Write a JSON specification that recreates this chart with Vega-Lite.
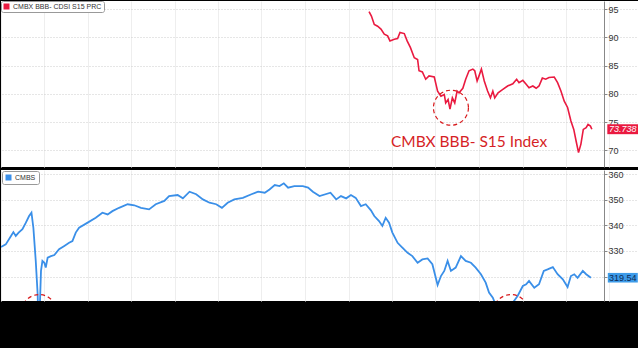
{
  "$schema": "https://vega.github.io/schema/vega-lite/v6.json",
  "background": "black",
  "padding": {"left": 0, "top": 0, "right": 0, "bottom": 48},
  "bounds": "flush",
  "spacing": 3,
  "config": {
    "view": {"fill": "white", "stroke": null},
    "font": "Liberation Sans"
  },
  "resolve": {"scale": {"color": "independent", "y": "independent"}, "legend": {"color": "independent"}},
  "datasets": {
    "cmbx": [
      {"date": "2022-02-12", "value": 94.6},
      {"date": "2022-02-17", "value": 93.8},
      {"date": "2022-02-23", "value": 92.3},
      {"date": "2022-03-02", "value": 92.0},
      {"date": "2022-03-09", "value": 91.5},
      {"date": "2022-03-16", "value": 90.6},
      {"date": "2022-03-23", "value": 90.3},
      {"date": "2022-03-28", "value": 89.4},
      {"date": "2022-04-06", "value": 89.7},
      {"date": "2022-04-13", "value": 89.8},
      {"date": "2022-04-18", "value": 90.9},
      {"date": "2022-04-27", "value": 90.7},
      {"date": "2022-05-03", "value": 89.4},
      {"date": "2022-05-10", "value": 88.2},
      {"date": "2022-05-18", "value": 86.4},
      {"date": "2022-05-25", "value": 86.1},
      {"date": "2022-05-28", "value": 84.1},
      {"date": "2022-06-04", "value": 83.9},
      {"date": "2022-06-11", "value": 82.6},
      {"date": "2022-06-18", "value": 83.2},
      {"date": "2022-06-29", "value": 83.0},
      {"date": "2022-07-06", "value": 80.5},
      {"date": "2022-07-13", "value": 79.6},
      {"date": "2022-07-20", "value": 79.9},
      {"date": "2022-07-23", "value": 78.4},
      {"date": "2022-07-28", "value": 79.0},
      {"date": "2022-08-01", "value": 77.3},
      {"date": "2022-08-06", "value": 79.3},
      {"date": "2022-08-11", "value": 78.4},
      {"date": "2022-08-16", "value": 80.5},
      {"date": "2022-08-20", "value": 80.2},
      {"date": "2022-08-28", "value": 81.0},
      {"date": "2022-09-03", "value": 82.6},
      {"date": "2022-09-10", "value": 84.1},
      {"date": "2022-09-18", "value": 84.4},
      {"date": "2022-09-22", "value": 84.1},
      {"date": "2022-09-27", "value": 82.3},
      {"date": "2022-10-01", "value": 83.2},
      {"date": "2022-10-06", "value": 84.4},
      {"date": "2022-10-12", "value": 82.3},
      {"date": "2022-10-19", "value": 80.5},
      {"date": "2022-10-25", "value": 79.3},
      {"date": "2022-10-30", "value": 80.5},
      {"date": "2022-11-03", "value": 79.3},
      {"date": "2022-11-10", "value": 80.2},
      {"date": "2022-11-20", "value": 80.8},
      {"date": "2022-11-30", "value": 81.4},
      {"date": "2022-12-11", "value": 81.8},
      {"date": "2022-12-19", "value": 82.6},
      {"date": "2022-12-24", "value": 82.0},
      {"date": "2023-01-01", "value": 82.4},
      {"date": "2023-01-08", "value": 81.7},
      {"date": "2023-01-14", "value": 81.1},
      {"date": "2023-01-22", "value": 81.4},
      {"date": "2023-01-29", "value": 81.0},
      {"date": "2023-02-04", "value": 81.4},
      {"date": "2023-02-11", "value": 82.8},
      {"date": "2023-02-18", "value": 82.6},
      {"date": "2023-02-25", "value": 82.9},
      {"date": "2023-03-08", "value": 83.0},
      {"date": "2023-03-15", "value": 82.0},
      {"date": "2023-03-22", "value": 80.5},
      {"date": "2023-03-29", "value": 78.7},
      {"date": "2023-04-05", "value": 77.6},
      {"date": "2023-04-12", "value": 75.2},
      {"date": "2023-04-18", "value": 73.7},
      {"date": "2023-04-23", "value": 71.6},
      {"date": "2023-04-28", "value": 69.6},
      {"date": "2023-05-03", "value": 71.1},
      {"date": "2023-05-08", "value": 73.7},
      {"date": "2023-05-14", "value": 74.0},
      {"date": "2023-05-18", "value": 74.6},
      {"date": "2023-05-23", "value": 74.3},
      {"date": "2023-05-26", "value": 73.738}
    ],
    "cmbs": [
      {"date": "2020-01-01", "value": 331.6},
      {"date": "2020-01-11", "value": 332.6},
      {"date": "2020-01-22", "value": 335.9},
      {"date": "2020-01-27", "value": 337.4},
      {"date": "2020-02-01", "value": 335.9},
      {"date": "2020-02-07", "value": 337.2},
      {"date": "2020-02-15", "value": 338.5},
      {"date": "2020-02-22", "value": 341.0},
      {"date": "2020-02-29", "value": 343.7},
      {"date": "2020-03-05", "value": 345.0},
      {"date": "2020-03-09", "value": 339.1},
      {"date": "2020-03-14", "value": 326.1},
      {"date": "2020-03-18", "value": 313.0},
      {"date": "2020-03-20", "value": 298.0},
      {"date": "2020-03-22", "value": 305.0},
      {"date": "2020-03-25", "value": 322.2},
      {"date": "2020-03-28", "value": 326.1},
      {"date": "2020-04-01", "value": 325.4},
      {"date": "2020-04-04", "value": 323.5},
      {"date": "2020-04-08", "value": 327.4},
      {"date": "2020-04-15", "value": 328.0},
      {"date": "2020-04-22", "value": 328.4},
      {"date": "2020-05-02", "value": 330.7},
      {"date": "2020-05-13", "value": 332.0},
      {"date": "2020-05-23", "value": 333.2},
      {"date": "2020-05-30", "value": 333.9},
      {"date": "2020-06-06", "value": 337.2},
      {"date": "2020-06-13", "value": 339.1},
      {"date": "2020-07-01", "value": 341.1},
      {"date": "2020-07-18", "value": 343.0},
      {"date": "2020-08-01", "value": 345.0},
      {"date": "2020-08-12", "value": 344.3},
      {"date": "2020-08-22", "value": 345.6},
      {"date": "2020-09-05", "value": 346.9},
      {"date": "2020-09-23", "value": 348.3},
      {"date": "2020-10-07", "value": 347.9},
      {"date": "2020-10-21", "value": 346.9},
      {"date": "2020-11-07", "value": 346.3},
      {"date": "2020-11-21", "value": 348.3},
      {"date": "2020-12-09", "value": 349.6},
      {"date": "2020-12-19", "value": 351.5},
      {"date": "2021-01-06", "value": 351.9},
      {"date": "2021-01-17", "value": 350.6},
      {"date": "2021-01-31", "value": 353.2},
      {"date": "2021-02-14", "value": 352.2},
      {"date": "2021-02-28", "value": 350.2},
      {"date": "2021-03-14", "value": 348.9},
      {"date": "2021-03-28", "value": 348.3},
      {"date": "2021-04-09", "value": 346.9},
      {"date": "2021-04-21", "value": 348.9},
      {"date": "2021-05-05", "value": 350.2},
      {"date": "2021-05-23", "value": 350.8},
      {"date": "2021-06-10", "value": 352.2},
      {"date": "2021-06-24", "value": 353.2},
      {"date": "2021-07-08", "value": 352.8},
      {"date": "2021-07-18", "value": 354.1},
      {"date": "2021-07-29", "value": 355.8},
      {"date": "2021-08-08", "value": 355.4},
      {"date": "2021-08-17", "value": 356.5},
      {"date": "2021-08-26", "value": 354.8},
      {"date": "2021-09-08", "value": 355.4},
      {"date": "2021-09-26", "value": 355.4},
      {"date": "2021-10-07", "value": 354.8},
      {"date": "2021-10-17", "value": 353.2},
      {"date": "2021-10-31", "value": 351.5},
      {"date": "2021-11-23", "value": 352.8},
      {"date": "2021-12-05", "value": 350.2},
      {"date": "2021-12-15", "value": 351.5},
      {"date": "2021-12-26", "value": 350.6},
      {"date": "2022-01-05", "value": 351.9},
      {"date": "2022-01-15", "value": 350.8},
      {"date": "2022-01-26", "value": 347.6},
      {"date": "2022-02-05", "value": 348.3},
      {"date": "2022-02-16", "value": 345.9},
      {"date": "2022-02-23", "value": 343.7},
      {"date": "2022-03-05", "value": 341.7},
      {"date": "2022-03-12", "value": 339.8},
      {"date": "2022-03-19", "value": 343.0},
      {"date": "2022-03-26", "value": 341.1},
      {"date": "2022-04-02", "value": 337.2},
      {"date": "2022-04-13", "value": 333.2},
      {"date": "2022-04-23", "value": 331.3},
      {"date": "2022-05-04", "value": 329.3},
      {"date": "2022-05-14", "value": 328.0},
      {"date": "2022-05-25", "value": 325.4},
      {"date": "2022-06-04", "value": 326.7},
      {"date": "2022-06-15", "value": 327.1},
      {"date": "2022-06-25", "value": 324.8},
      {"date": "2022-07-06", "value": 316.7},
      {"date": "2022-07-13", "value": 320.2},
      {"date": "2022-07-20", "value": 322.2},
      {"date": "2022-07-27", "value": 326.1},
      {"date": "2022-08-03", "value": 322.2},
      {"date": "2022-08-13", "value": 323.5},
      {"date": "2022-08-24", "value": 328.0},
      {"date": "2022-09-03", "value": 326.1},
      {"date": "2022-09-14", "value": 325.4},
      {"date": "2022-09-24", "value": 323.5},
      {"date": "2022-10-05", "value": 320.9},
      {"date": "2022-10-15", "value": 317.6},
      {"date": "2022-10-22", "value": 313.7},
      {"date": "2022-10-30", "value": 311.7},
      {"date": "2022-11-08", "value": 307.5},
      {"date": "2022-11-20", "value": 305.5},
      {"date": "2022-11-29", "value": 306.5},
      {"date": "2022-12-11", "value": 309.8},
      {"date": "2022-12-21", "value": 312.4},
      {"date": "2023-01-01", "value": 316.3},
      {"date": "2023-01-08", "value": 317.0},
      {"date": "2023-01-14", "value": 318.3},
      {"date": "2023-01-25", "value": 315.6},
      {"date": "2023-02-04", "value": 317.0},
      {"date": "2023-02-14", "value": 322.2},
      {"date": "2023-02-22", "value": 322.8},
      {"date": "2023-03-05", "value": 323.7},
      {"date": "2023-03-15", "value": 320.9},
      {"date": "2023-03-26", "value": 318.9},
      {"date": "2023-04-05", "value": 315.9},
      {"date": "2023-04-12", "value": 320.2},
      {"date": "2023-04-19", "value": 320.9},
      {"date": "2023-04-26", "value": 319.5},
      {"date": "2023-05-07", "value": 322.2},
      {"date": "2023-05-14", "value": 320.9},
      {"date": "2023-05-24", "value": 319.54}
    ],
    "topCircle": [{"date": "2022-08-03", "value": 77.55}],
    "topNote": [{"date": "2022-09-10", "value": 71.4, "label": "CMBX BBB- S15 Index"}],
    "topLast": [{"date": "2023-07-30", "value": 73.738, "label": "73.738"}],
    "bottomCircles": [{"date": "2020-03-21", "value": 306.1}, {"date": "2022-12-07", "value": 306.1}],
    "bottomLast": [{"date": "2023-07-30", "value": 319.54, "label": "319.54"}]
  },
  "vconcat": [
    {
      "width": 638,
      "height": 166,
      "encoding": {
        "x": {"field": "date", "type": "temporal",
              "scale": {"domain": [{"year": 2020, "month": 1, "date": 1}, {"year": 2023, "month": 9, "date": 2}]},
              "axis": {"title": null, "labels": false, "ticks": false, "domain": false, "grid": true, "gridColor": "#eeeeee", "gridWidth": 1, "tickCount": {"interval": "month", "step": 3}}},
        "y": {"field": "value", "type": "quantitative",
              "scale": {"domain": [67.04, 96.47], "nice": false, "zero": false},
              "axis": {"title": null, "orient": "right", "offset": -35, "values": [70, 75, 80, 85, 90, 95],
                       "domainColor": "#888888", "tickColor": "#888888", "tickSize": 3, "labelFontSize": 9, "labelColor": "#333333", "labelPadding": 1,
                       "grid": true, "gridColor": "#cccccc", "gridDash": [1, 2]}}
      },
      "layer": [
        {
          "data": {"name": "cmbx"},
          "mark": {"type": "line", "strokeWidth": 1.6, "clip": true},
          "encoding": {
            "color": {"datum": "CMBX BBB- CDSI S15 PRC", "scale": {"range": ["#ea1a40"]},
                      "legend": {"orient": "top-left", "offset": 0, "title": null, "padding": 2, "strokeColor": "#999999", "fillColor": "white", "cornerRadius": 2,
                                 "symbolType": "square", "symbolSize": 36, "labelFontSize": 7, "labelColor": "#333333", "labelOffset": 3,
                                 "encode": {"symbols": {"update": {"fill": {"value": "#ea1a40"}, "strokeWidth": {"value": 0}}}}}}
          }
        },
        {
          "data": {"name": "topCircle"},
          "mark": {"type": "point", "shape": "circle", "size": 1225, "filled": false, "stroke": "#d7191c", "strokeWidth": 1.2, "strokeDash": [4, 3], "opacity": 1}
        },
        {
          "data": {"name": "topNote"},
          "mark": {"type": "text", "font": "Lato", "fontSize": 15.5, "color": "#d61f26", "align": "center", "baseline": "middle"},
          "encoding": {"text": {"field": "label"}}
        },
        {
          "data": {"name": "topLast"},
          "mark": {"type": "point", "shape": "M-1,-0.32H1V0.32H-1Z", "size": 961, "filled": true, "color": "#ea1a40", "opacity": 1}
        },
        {
          "data": {"name": "topLast"},
          "mark": {"type": "text", "fontSize": 9, "fontStyle": "italic", "color": "white", "align": "center", "baseline": "middle"},
          "encoding": {"text": {"field": "label"}}
        }
      ]
    },
    {
      "width": 638,
      "height": 131,
      "encoding": {
        "x": {"field": "date", "type": "temporal",
              "scale": {"domain": [{"year": 2020, "month": 1, "date": 1}, {"year": 2023, "month": 9, "date": 2}]},
              "axis": {"title": null, "labels": false, "ticks": false, "domain": false, "grid": true, "gridColor": "#eeeeee", "gridWidth": 1, "tickCount": {"interval": "month", "step": 3}}},
        "y": {"field": "value", "type": "quantitative",
              "scale": {"domain": [310.43, 361.7], "nice": false, "zero": false},
              "axis": {"title": null, "orient": "right", "offset": -35, "values": [320, 330, 340, 350, 360],
                       "domainColor": "#888888", "tickColor": "#888888", "tickSize": 3, "labelFontSize": 9, "labelColor": "#333333", "labelPadding": 1,
                       "grid": true, "gridColor": "#cccccc", "gridDash": [1, 2]}}
      },
      "layer": [
        {
          "data": {"name": "cmbs"},
          "mark": {"type": "line", "strokeWidth": 1.8, "clip": true},
          "encoding": {
            "color": {"datum": "CMBS", "scale": {"range": ["#3a8fe8"]},
                      "legend": {"orient": "top-left", "offset": 1, "title": null, "padding": 3, "strokeColor": "#999999", "fillColor": "white", "cornerRadius": 2,
                                 "symbolType": "square", "symbolSize": 36, "labelFontSize": 7, "labelColor": "#333333", "labelOffset": 3,
                                 "encode": {"symbols": {"update": {"fill": {"value": "#3a8fe8"}, "strokeWidth": {"value": 0}}}}}}
          }
        },
        {
          "data": {"name": "bottomCircles"},
          "mark": {"type": "point", "shape": "circle", "size": 1225, "filled": false, "stroke": "#d7191c", "strokeWidth": 1.2, "strokeDash": [4, 3], "opacity": 1, "clip": true}
        },
        {
          "data": {"name": "bottomLast"},
          "mark": {"type": "point", "shape": "M-1,-0.32H1V0.32H-1Z", "size": 900, "filled": true, "color": "#3d9be9", "opacity": 1}
        },
        {
          "data": {"name": "bottomLast"},
          "mark": {"type": "text", "fontSize": 9, "color": "#0d2a55", "align": "center", "baseline": "middle"},
          "encoding": {"text": {"field": "label"}}
        }
      ]
    }
  ]
}
